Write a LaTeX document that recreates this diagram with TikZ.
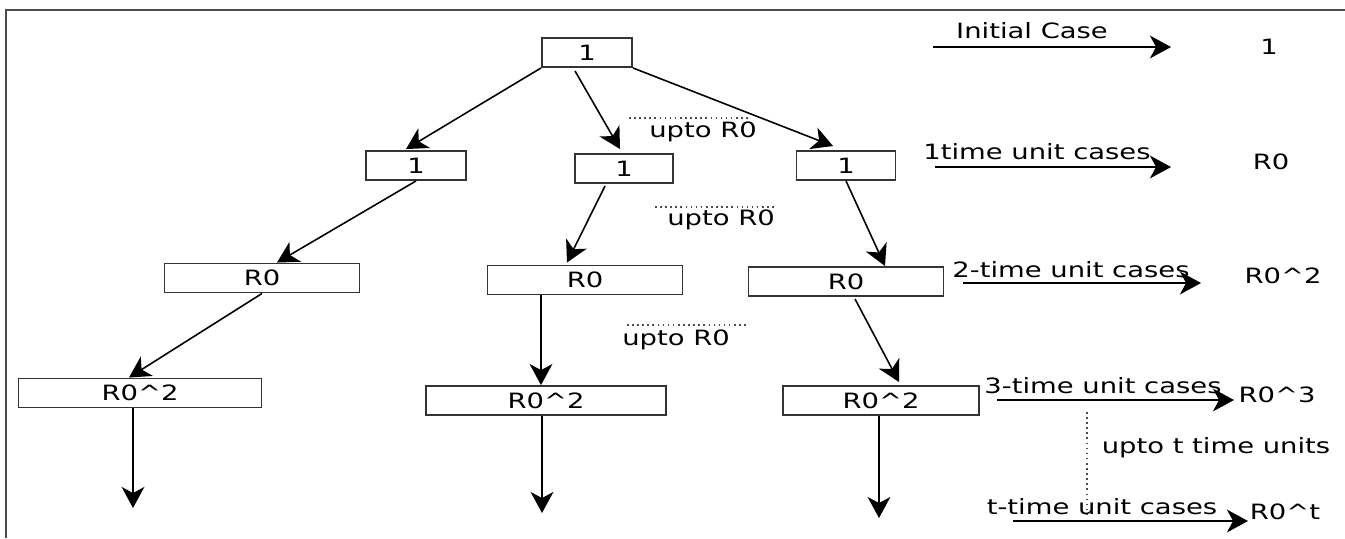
\documentclass[tikz,border=0pt]{standalone}
\usepackage{fontspec}
\setmainfont{DejaVu Sans}[FakeStretch=1.3]
\usepackage{tikz}
\usetikzlibrary{arrows.meta, positioning, calc}

\begin{document}
\begin{tikzpicture}[
            x=0.02cm, y=-0.02cm,
            font=\fontsize{12}{14}\selectfont,
            box/.style={rectangle, draw=black!80, line width=1.1pt, inner sep=0pt,
                        minimum width=#1*0.02cm, minimum height=0.58cm, align=center},
            lbl/.style={inner sep=0pt},
            arrow/.style={-{Stealth[length=12pt, width=13pt, inset=3.5pt]}, line width=0.9pt},
            dots/.style={dotted, line width=0.9pt, black!70}
        ]
            \useasboundingbox (0,0) rectangle (1345,538);
            % Frame
            \draw[black!70, line width=0.9pt] (6,538) -- (6,10) -- (1345,10);

            % Row 0
            \node[box=90] (root) at (587,52.5) {1};

            % Row 1
            \node[box=100] (l1a) at (416,165.5) {1};
            \node[box=98]  (l1b) at (624,168.5) {1};
            \node[box=99]  (l1c) at (846,165.5) {1};

            % Row 2
            \node[box=195] (l2a) at (262,278) {R0};
            \node[box=195] (l2b) at (585,280) {R0};
            \node[box=195] (l2c) at (846,281.5) {R0};

            % Row 3
            \node[box=243] (l3a) at (140,393) {R0\textasciicircum2};
            \node[box=240] (l3b) at (546,400.5) {R0\textasciicircum2};
            \node[box=196] (l3c) at (881,400.5) {R0\textasciicircum2};

            % Open ends
            \coordinate (enda) at (133,508);
            \coordinate (endb) at (542,513);
            \coordinate (endc) at (879,518);

            % Tree arrows
            \draw[arrow] (root.south west) -- ($(l1a.north)+(-10,-1)$);
            \draw[arrow] ($(root.south)+(-12,3)$) -- ($(l1b.north)+(-4,-4)$);
            \draw[arrow] (root.south east) -- ($(l1c.north)+(-13,-4)$);
            \draw[arrow] (l1a.south) -- ($(l2a.north)+(15,0)$);
            \draw[arrow] ($(l1b.south)+(-19,2)$) -- ($(l2b.north)+(-18,-2)$);
            \draw[arrow] (l1c.south) -- ($(l2c.north)+(39,0)$);
            \draw[arrow] (l2a.south) -- ($(l3a.north)+(-11,0)$);
            \draw[arrow] ($(l3b.north |- l2b.south)+(-5,0)$) -- ($(l3b.north)+(-5,0)$);
            \draw[arrow] ($(l2c.south)+(9,2)$) -- ($(l3c.north)+(18,-3)$);
            \draw[arrow] (enda |- l3a.south) -- (enda);
            \draw[arrow] (endb |- l3b.south) -- (endb);
            \draw[arrow] (endc |- l3c.south) -- (endc);

            % Dotted "upto" marks
            \draw[dots] (629,118) -- (750,118);
            \node[lbl] (upto1) at (703,132) {upto R0};
            \draw[dots] (655,207) -- (774,207);
            \node[lbl] (upto2) at (721,220) {upto R0};
            \draw[dots] (627,325) -- (748,325);
            \node[lbl] (upto3) at (676,340) {upto R0};

            % Right column
            \coordinate (s0) at (933,47);  \coordinate (e0) at (1171,47);
            \coordinate (s1) at (935,167); \coordinate (e1) at (1171,167);
            \coordinate (s2) at (963,283); \coordinate (e2) at (1201,283);
            \coordinate (s3) at (997,400); \coordinate (e3) at (1234,400);
            \coordinate (s4) at (1013,521); \coordinate (e4) at (1248,521);

            \draw[arrow] (s0) -- (e0);
            \draw[arrow] (s1) -- (e1);
            \draw[arrow] (s2) -- (e2);
            \draw[arrow] (s3) -- (e3);
            \draw[arrow] (s4) -- (e4);

            \node[lbl] (case0) at (1032,31) {Initial Case};
            \node[lbl] (case1) at (1037,152) {1time unit cases};
            \node[lbl] (case2) at (1071,270) {2-time unit cases};
            \node[lbl] (case3) at (1103,386) {3-time unit cases};
            \node[lbl] (case4) at (1102,507) {t-time unit cases};

            \node[lbl] (res0) at (1269,47) {1};
            \node[lbl] (res1) at (1271,162) {R0};
            \node[lbl] (res2) at (1283,276) {R0\textasciicircum2};
            \node[lbl] (res3) at (1277,395) {R0\textasciicircum3};
            \node[lbl] (res4) at (1285,512) {R0\textasciicircum t};

            % Up to t
            \draw[dots] (1087,412) -- (1087,517);
            \node[lbl] (uptot) at (1216,448) {upto t time units};
        \end{tikzpicture}
\end{document}
